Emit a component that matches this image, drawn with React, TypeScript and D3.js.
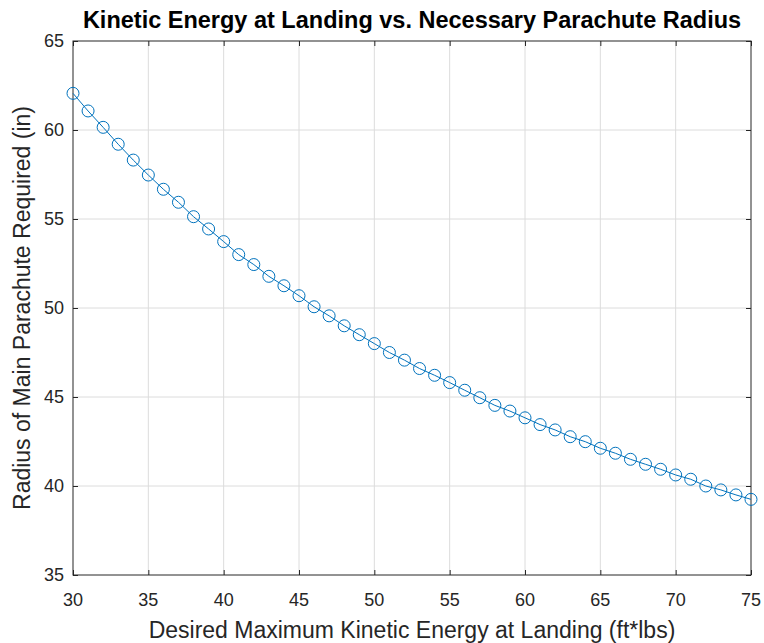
import React, { useEffect, useRef } from 'react';
import * as d3 from 'd3';

// desired maximum kinetic energy at landing (ft*lbs)
const energies = [
  30, 31, 32, 33, 34, 35, 36, 37, 38, 39, 40, 41, 42, 43, 44, 45,
  46, 47, 48, 49, 50, 51, 52, 53, 54, 55, 56, 57, 58, 59, 60, 61,
  62, 63, 64, 65, 66, 67, 68, 69, 70, 71, 72, 73, 74, 75
];

// radius of main parachute required (in)
const radii = [
  62.06, 61.07, 60.15, 59.2, 58.31, 57.47, 56.67, 55.94, 55.13, 54.44, 53.73, 53.0,
  52.44, 51.78, 51.25, 50.69, 50.07, 49.56, 49.0, 48.5, 48.0, 47.5, 47.07, 46.6,
  46.22, 45.81, 45.38, 44.96, 44.53, 44.21, 43.83, 43.45, 43.15, 42.77, 42.49, 42.12,
  41.84, 41.5, 41.22, 40.94, 40.62, 40.38, 40.0, 39.78, 39.5, 39.25
];

const xTicks = [30, 35, 40, 45, 50, 55, 60, 65, 70, 75];
const yTicks = [35, 40, 45, 50, 55, 60, 65];

const titleText = 'Kinetic Energy at Landing vs. Necessary Parachute Radius';
const xLabelText = 'Desired Maximum Kinetic Energy at Landing (ft*lbs)';
const yLabelText = 'Radius of Main Parachute Required (in)';

const width = 764;
const height = 643;
const margin = { top: 41, right: 13, bottom: 68, left: 73 };
const font = '"Liberation Sans", Arial, Helvetica, sans-serif';
const axisColor = '#262626';
const lineColor = '#0072BD';

export default function App() {
  const svgRef = useRef<SVGSVGElement>(null);

  useEffect(() => {
    if (!svgRef.current) return;
    const svg = d3.select(svgRef.current);
    svg.selectAll('*').remove();

    const innerWidth = width - margin.left - margin.right;
    const innerHeight = height - margin.top - margin.bottom;

    const x = d3.scaleLinear().domain([30, 75]).range([0, innerWidth]);
    const y = d3.scaleLinear().domain([35, 65]).range([innerHeight, 0]);

    svg.append('rect').attr('width', width).attr('height', height).attr('fill', '#fff');

    const g = svg.append('g').attr('transform', `translate(${margin.left},${margin.top})`);

    // grid
    g.selectAll('.vgrid')
      .data(xTicks.slice(1, -1))
      .enter()
      .append('line')
      .attr('x1', d => x(d)).attr('x2', d => x(d))
      .attr('y1', 0).attr('y2', innerHeight)
      .attr('stroke', '#dcdcdc').attr('stroke-width', 1);

    g.selectAll('.hgrid')
      .data(yTicks.slice(1, -1))
      .enter()
      .append('line')
      .attr('x1', 0).attr('x2', innerWidth)
      .attr('y1', d => y(d)).attr('y2', d => y(d))
      .attr('stroke', '#dcdcdc').attr('stroke-width', 1);

    // axes box, ticks inward on all sides
    const tickLen = 5;
    g.append('g').attr('transform', `translate(0,${innerHeight})`).call(
      d3.axisBottom(x).tickValues(xTicks).tickSize(-tickLen).tickSizeOuter(0).tickFormat(() => '')
    );
    g.append('g').call(
      d3.axisTop(x).tickValues(xTicks).tickSize(-tickLen).tickSizeOuter(0).tickFormat(() => '')
    );
    g.append('g').call(
      d3.axisLeft(y).tickValues(yTicks).tickSize(-tickLen).tickSizeOuter(0).tickFormat(() => '')
    );
    g.append('g').attr('transform', `translate(${innerWidth},0)`).call(
      d3.axisRight(y).tickValues(yTicks).tickSize(-tickLen).tickSizeOuter(0).tickFormat(() => '')
    );
    g.selectAll('.domain').remove();
    g.selectAll('.tick line').attr('stroke', axisColor);

    g.append('rect')
      .attr('width', innerWidth).attr('height', innerHeight)
      .attr('fill', 'none').attr('stroke', axisColor).attr('stroke-width', 1);

    // tick labels
    g.selectAll('.xlab')
      .data(xTicks)
      .enter()
      .append('text')
      .attr('x', d => x(d))
      .attr('y', innerHeight + 31)
      .attr('text-anchor', 'middle')
      .attr('font-family', font).attr('font-size', 18)
      .attr('fill', axisColor)
      .text(d => d);

    g.selectAll('.ylab')
      .data(yTicks)
      .enter()
      .append('text')
      .attr('x', -9)
      .attr('y', d => y(d))
      .attr('dy', '0.35em')
      .attr('text-anchor', 'end')
      .attr('font-family', font).attr('font-size', 18)
      .attr('fill', axisColor)
      .text(d => d);

    // data line + markers
    const pts = energies.map((e, i) => [e, radii[i]] as [number, number]);
    const line = d3.line<[number, number]>().x(d => x(d[0])).y(d => y(d[1]));
    g.append('path')
      .datum(pts)
      .attr('d', line)
      .attr('fill', 'none')
      .attr('stroke', lineColor)
      .attr('stroke-width', 1);

    g.selectAll('.marker')
      .data(pts)
      .enter()
      .append('circle')
      .attr('cx', d => x(d[0]))
      .attr('cy', d => y(d[1]))
      .attr('r', 6)
      .attr('fill', 'none')
      .attr('stroke', lineColor)
      .attr('stroke-width', 1);

    // title and axis labels
    svg.append('text')
      .attr('x', margin.left + innerWidth / 2)
      .attr('y', 28)
      .attr('text-anchor', 'middle')
      .attr('font-family', font).attr('font-size', 23.5).attr('font-weight', 'bold')
      .attr('fill', '#000')
      .text(titleText);

    svg.append('text')
      .attr('x', margin.left + innerWidth / 2)
      .attr('y', 638)
      .attr('text-anchor', 'middle')
      .attr('font-family', font).attr('font-size', 23)
      .attr('fill', axisColor)
      .text(xLabelText);

    svg.append('text')
      .attr('transform', `translate(30,${margin.top + innerHeight / 2}) rotate(-90)`)
      .attr('text-anchor', 'middle')
      .attr('font-family', font).attr('font-size', 23)
      .attr('fill', axisColor)
      .text(yLabelText);
  }, []);

  return (
    <svg
      ref={svgRef}
      width={width}
      height={height}
      style={{ position: 'absolute', left: 0, top: 0, display: 'block' }}
    />
  );
}
